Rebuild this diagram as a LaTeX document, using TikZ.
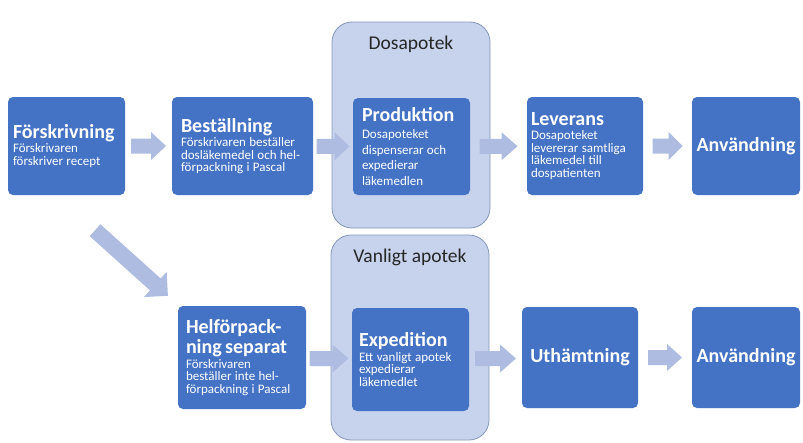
\documentclass[tikz,border=0pt]{standalone}
\usepackage{fontspec}
\setmainfont{Carlito}
\usetikzlibrary{calc}
\definecolor{boxblue}{HTML}{4472C4}
\definecolor{contfill}{HTML}{C7D3EC}
\definecolor{contline}{HTML}{8497B8}
\definecolor{arrowc}{HTML}{AFBCE2}
\newcommand\ttl[2][18]{{\fontsize{20}{#1}\selectfont\bfseries #2\par}}
\newcommand\bdy[2][12.5]{{\fontsize{13}{#1}\selectfont\vskip2pt #2\par}}
\newcommand\blockarrow[6]{%
  \fill[arrowc, shift={(#1)}, rotate=#2]
    ({-#3/2},{-#4}) -- ({#3/2-#6},{-#4}) -- ({#3/2-#6},{-#5}) -- ({#3/2},0)
    -- ({#3/2-#6},{#5}) -- ({#3/2-#6},{#4}) -- ({-#3/2},{#4}) -- cycle;}
\tikzset{
  box/.style={rectangle, rounded corners=5pt, fill=boxblue, text=white, align=left, inner ysep=0pt},
  cbox/.style={rectangle, rounded corners=5pt, fill=boxblue, text=white, align=center,
    font=\fontsize{20}{24}\selectfont\bfseries},
  cont/.style={rectangle, rounded corners=20pt, fill=contfill, draw=contline, line width=0.8pt},
  contlabel/.style={anchor=center, yshift=-23pt, font=\fontsize{19.5}{22}\selectfont, text=black!85}
}
\begin{document}
\begin{tikzpicture}[x=1pt, y=-1pt]
\useasboundingbox (0,0) rectangle (803,442);
\fill[white] (0,0) rectangle (803,442);
% containers
\node[cont, minimum width=158pt, minimum height=206pt,
  label={[contlabel]north:Dosapotek}] (dos) at (411,125) {};
\node[cont, minimum width=158pt, minimum height=205pt,
  label={[contlabel]north:Vanligt apotek}] (van) at (410,337.5) {};
% top row
\node[box, minimum width=117pt, minimum height=98pt, inner xsep=5pt, text width=107pt] (fors) at (66.5,146)
  {\ttl{Förskrivning}\bdy{Förskrivaren\\förskriver recept}};
\node[box, minimum width=141pt, minimum height=98pt, inner xsep=9pt, text width=123pt] (best) at (242.5,146)
  {\ttl{Beställning}\bdy{Förskrivaren beställer\\dosläkemedel och hel-\\förpackning i Pascal}};
\node[box, minimum width=117pt, minimum height=97pt, inner xsep=9pt, text width=99pt] (prod) at (411.5,146.5)
  {\ttl{Produktion}\bdy[15.5]{Dosapoteket\\dispenserar och\\expedierar\\läkemedlen}};
\node[box, minimum width=116pt, minimum height=98pt, inner xsep=4pt, text width=108pt] (lev) at (585,146)
  {\ttl{Leverans}\bdy{Dosapoteket\\levererar samtliga\\läkemedel till\\dospatienten}};
\node[cbox, minimum width=108pt, minimum height=98pt] (anv1) at (746,146) {Användning};
% bottom row
\node[box, minimum width=128pt, minimum height=103pt, inner xsep=8pt, text width=112pt] (hel) at (242,357.5)
  {\ttl[20]{Helförpack-\\ning separat}\bdy{Förskrivaren\\beställer inte hel-\\förpackning i Pascal}};
\node[box, minimum width=117pt, minimum height=103pt, inner xsep=7pt, text width=103pt] (exp) at (410.5,359.5)
  {\ttl{Expedition}\bdy{Ett vanligt apotek\\expedierar\\läkemedlet}};
\node[cbox, minimum width=116pt, minimum height=101pt] (uth) at (580,357.5) {Uthämtning};
\node[cbox, minimum width=108pt, minimum height=101pt] (anv2) at (746,357.5) {Användning};
% arrow positions
\coordinate (a1) at ($(fors.east)!0.5!(best.west)$);
\coordinate (a2) at ($(best.east)!0.5!(prod.west)$);
\coordinate (a3) at ($(prod.east)!0.5!(lev.west)$);
\coordinate (a4) at ($(lev.east)!0.5!(anv1.west)$);
\coordinate (a5) at ($(hel.east)!0.5!(exp.west)$);
\coordinate (a6) at ($(exp.east)!0.5!(uth.west)$);
\coordinate (a7) at ($(uth.east)!0.5!(anv2.west)$);
\coordinate (dg) at (131.5,263);
\blockarrow{a1}{0}{35}{7.5}{14}{15}
\blockarrow{a2}{0}{33}{7.5}{14}{15}
\blockarrow{a3}{0}{38}{7.5}{14}{16}
\blockarrow{a4}{0}{30}{7.5}{14}{14}
\blockarrow{a5}{0}{39}{7.5}{14}{16}
\blockarrow{a6}{0}{41}{7.5}{14}{16}
\blockarrow{a7}{0}{34}{7.5}{13.5}{15}
\blockarrow{dg}{-42}{98}{8}{17}{17}
\end{tikzpicture}
\end{document}
